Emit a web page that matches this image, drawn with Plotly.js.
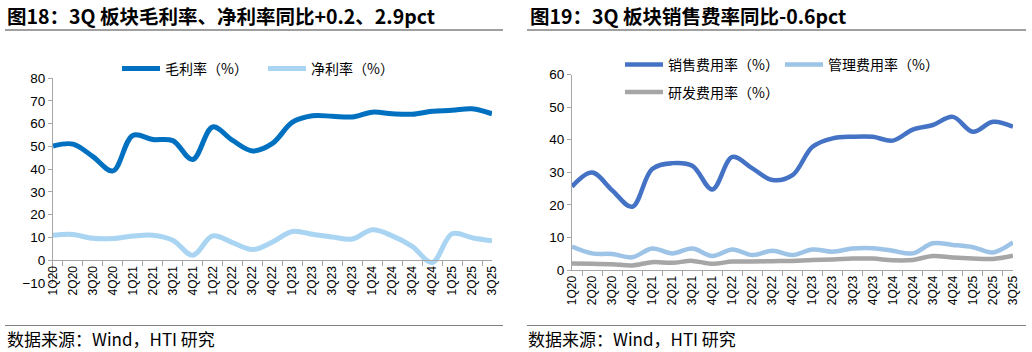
<!DOCTYPE html>
<html>
<head>
<meta charset="utf-8">
<script src="https://cdn.plot.ly/plotly-3.0.1.min.js"></script>
<style>html,body{margin:0;padding:0;background:#fff;}#chart{width:1032px;height:352px;}</style>
</head>
<body>
<div id="chart"></div>
<script>
const quarters = ['1Q20','2Q20','3Q20','4Q20','1Q21','2Q21','3Q21','4Q21','1Q22','2Q22','3Q22','4Q22','1Q23','2Q23','3Q23','4Q23','1Q24','2Q24','3Q24','4Q24','1Q25','2Q25','3Q25'];
const grossMargin = [50.1,51.0,45.5,39.2,54.8,53.0,52.5,44.2,58.5,52.6,48.0,51.3,60.6,63.4,63.2,62.9,65.0,64.3,64.1,65.4,65.8,66.5,64.3];
const netMargin   = [11.0,11.3,9.6,9.5,10.6,11.0,8.8,2.2,10.7,7.7,4.7,8.0,12.6,11.4,10.2,9.3,13.4,10.7,6.1,-1.0,11.6,9.9,8.5];
const sellingRate = [25.6,29.9,24.5,19.4,31.0,32.8,32.0,24.7,34.7,31.2,27.6,29.1,37.8,40.4,40.9,40.9,39.7,43.1,44.5,47.0,42.4,45.5,44.0];
const adminRate   = [7.2,5.1,4.9,3.9,6.6,5.1,6.6,4.3,6.3,4.6,5.9,4.6,6.3,5.6,6.6,6.7,5.9,5.1,8.2,7.7,7.0,5.4,8.5];
const rdRate      = [2.0,1.9,1.8,1.4,2.4,2.2,2.8,1.9,2.6,2.6,2.7,2.8,3.1,3.2,3.5,3.5,3.0,3.1,4.3,3.8,3.5,3.4,4.4];
const leftTitle = '图18：3Q 板块毛利率、净利率同比+0.2、2.9pct';
const rightTitle = '图19：3Q 板块销售费率同比-0.6pct';
const sourceText = '数据来源：Wind，HTI 研究';

const W = 1032, H = 352;
const px = x => x / W;
const py = y => 1 - y / H;
const cjk = '"Noto Sans CJK SC", "Liberation Sans", sans-serif';
const latin = '"Liberation Sans", Arial, sans-serif';

function line(name, y, color, xa, ya, leg, w) {
  return {type:'scatter', mode:'lines', name:name, x:quarters, y:y, xaxis:xa, yaxis:ya, legend:leg,
    line:{color:color, width:w, shape:'spline', smoothing:1}, hoverinfo:'skip'};
}

const traces = [
  line('毛利率（%）', grossMargin, '#0070C0', 'x', 'y', 'legend', 5),
  line('净利率（%）', netMargin, '#A9D5F2', 'x', 'y', 'legend', 5),
  line('销售费用率（%）', sellingRate, '#4472C4', 'x2', 'y2', 'legend2', 4.5),
  line('管理费用率（%）', adminRate, '#9DC3E6', 'x2', 'y2', 'legend2', 4.5),
  line('研发费用率（%）', rdRate, '#A6A6A6', 'x2', 'y2', 'legend3', 4.5)
];

const yL = [py(283), py(78)];
const yR = [py(270), py(74.5)];
const zeroPos = yL[0] + (10/90)*(yL[1]-yL[0]);

const axisCommon = {showgrid:false, zeroline:false, showline:true, linecolor:'#A6A6A6', linewidth:1,
  ticks:'outside', tickcolor:'#A6A6A6', ticklen:5, fixedrange:true};
const xCommon = Object.assign({}, axisCommon, {type:'category', tickson:'boundaries', tickangle:-90,
  tickfont:{family:latin, size:12, color:'#000'}});
const yCommon = Object.assign({}, axisCommon, {tickfont:{family:latin, size:13.5, color:'#000'}, dtick:10, ticklen:4});

const legendCommon = {orientation:'h', font:{family:cjk, size:14, color:'#000'}, bgcolor:'rgba(0,0,0,0)',
  itemwidth:38, tracegroupgap:0, yanchor:'middle', xanchor:'left', traceorder:'normal'};

const layout = {
  width:W, height:H, margin:{l:0,r:0,t:0,b:0}, paper_bgcolor:'#fff', plot_bgcolor:'rgba(0,0,0,0)',
  showlegend:true,
  xaxis:Object.assign({}, xCommon, {domain:[px(53), px(492)], anchor:'free', position:zeroPos}),
  yaxis:Object.assign({}, yCommon, {domain:yL, range:[-10,80], anchor:'x', tickvals:[-10,0,10,20,30,40,50,60,70,80]}),
  xaxis2:Object.assign({}, xCommon, {domain:[px(572), px(1013)], anchor:'y2'}),
  yaxis2:Object.assign({}, yCommon, {domain:yR, range:[0,60], anchor:'x2'}),
  legend:Object.assign({}, legendCommon, {x:px(117), y:py(69), entrywidth:93, entrywidthmode:'pixels'}),
  legend2:Object.assign({}, legendCommon, {x:px(620), y:py(65), entrywidth:107, entrywidthmode:'pixels'}),
  legend3:Object.assign({}, legendCommon, {x:px(620), y:py(92.5)}),
  shapes:[
    {type:'line', xref:'paper', yref:'paper', x0:px(5), x1:px(503), y0:py(30), y1:py(30), line:{color:'#808080', width:1.5}},
    {type:'line', xref:'paper', yref:'paper', x0:px(527), x1:px(1026), y0:py(30), y1:py(30), line:{color:'#808080', width:1.5}},
    {type:'line', xref:'paper', yref:'paper', x0:px(5), x1:px(503), y0:py(325.5), y1:py(325.5), line:{color:'#808080', width:1.2}},
    {type:'line', xref:'paper', yref:'paper', x0:px(527), x1:px(1026), y0:py(325.5), y1:py(325.5), line:{color:'#808080', width:1.2}}
  ],
  annotations:[
    {text:'<b>'+leftTitle+'</b>', xref:'paper', yref:'paper', x:px(5), y:py(16), xanchor:'left', yanchor:'middle', showarrow:false, font:{family:cjk, size:19.5, color:'#000'}},
    {text:'<b>'+rightTitle+'</b>', xref:'paper', yref:'paper', x:px(528), y:py(16), xanchor:'left', yanchor:'middle', showarrow:false, font:{family:cjk, size:19.5, color:'#000'}},
    {text:sourceText, xref:'paper', yref:'paper', x:px(5), y:py(338), xanchor:'left', yanchor:'middle', showarrow:false, font:{family:cjk, size:17, color:'#000'}},
    {text:sourceText, xref:'paper', yref:'paper', x:px(526), y:py(338), xanchor:'left', yanchor:'middle', showarrow:false, font:{family:cjk, size:17, color:'#000'}}
  ]
};

Plotly.newPlot('chart', traces, layout, {displayModeBar:false, staticPlot:true});
</script>
</body>
</html>
